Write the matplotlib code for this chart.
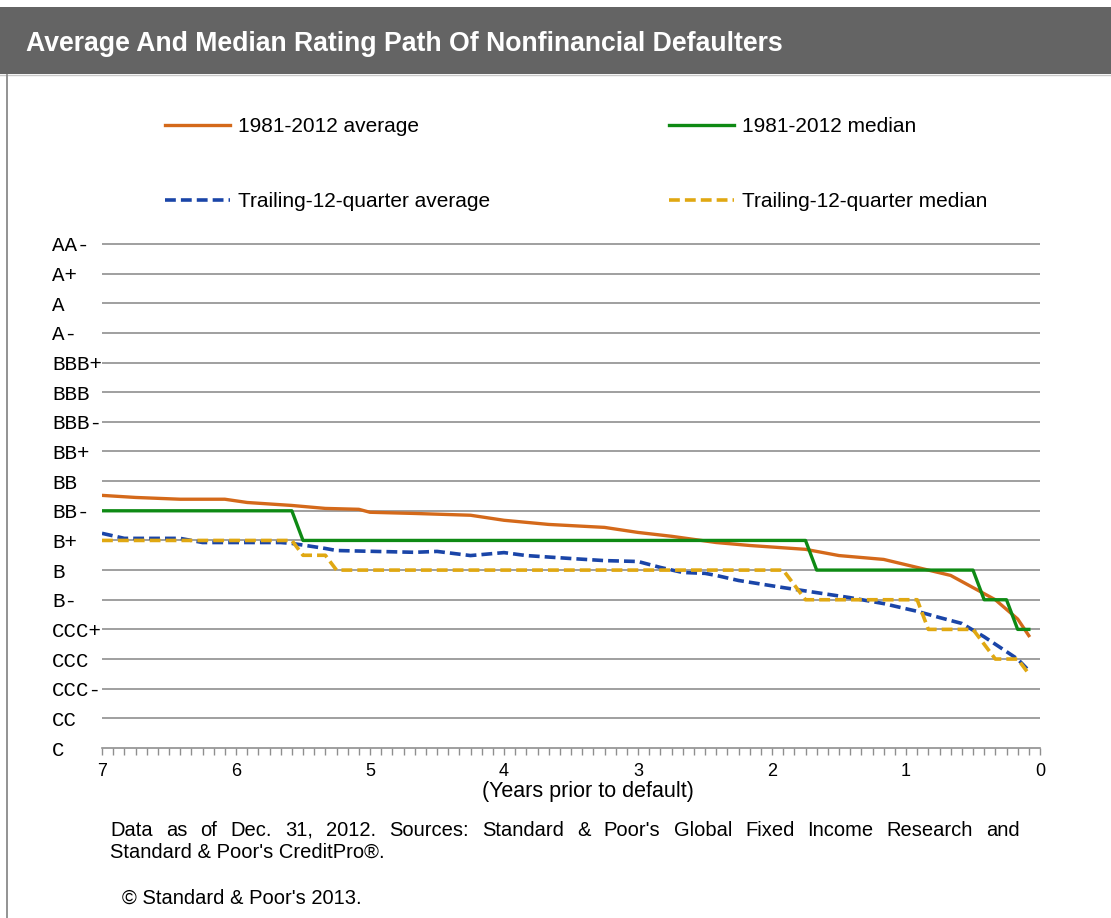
import matplotlib
matplotlib.use('Agg')
import matplotlib.pyplot as plt
from matplotlib.patches import Rectangle
from matplotlib.lines import Line2D
from matplotlib.ticker import MultipleLocator
import numpy as np

# rating scale, bottom to top
ratings = ['C', 'CC', 'CCC-', 'CCC', 'CCC+', 'B-', 'B', 'B+', 'BB-', 'BB',
           'BB+', 'BBB-', 'BBB', 'BBB+', 'A-', 'A', 'A+', 'AA-']

# months prior to default / rating level (1 = C ... 18 = AA-)
avg_months = [84, 81, 77, 73, 71, 67, 64, 61, 60, 56, 51, 48, 44, 39, 36, 33,
              29, 26, 21, 18, 14, 11, 8, 6, 4, 2, 1]
avg_vals = [9.52, 9.45, 9.39, 9.39, 9.28, 9.18, 9.08, 9.05, 8.95, 8.91, 8.85,
            8.68, 8.54, 8.44, 8.27, 8.14, 7.93, 7.83, 7.70, 7.49, 7.36, 7.09,
            6.82, 6.41, 6.00, 5.35, 4.79]

med_months = [84, 67, 66, 21, 20, 6, 5, 3, 2, 1]
med_vals = [9, 9, 8, 8, 7, 7, 6, 6, 5, 5]

trail_avg_months = [84, 82, 77, 75, 68, 67, 64, 63, 56, 54, 51, 48, 46, 42, 39,
                    36, 34, 32, 30, 29, 27, 23, 20, 17, 14, 11, 9, 7, 5, 2, 1]
trail_avg_vals = [8.24, 8.07, 8.07, 7.93, 7.93, 7.90, 7.73, 7.66, 7.60, 7.63,
                  7.49, 7.59, 7.49, 7.39, 7.32, 7.29, 7.09, 6.92, 6.89, 6.82,
                  6.65, 6.41, 6.24, 6.07, 5.87, 5.61, 5.40, 5.20, 4.75, 4.00, 3.61]

trail_med_months = [84, 67, 66, 64, 63, 23, 22, 21, 11, 10, 6, 5, 4, 2, 1]
trail_med_vals = [8, 8, 7.5, 7.5, 7, 7, 6.5, 6, 6, 5, 5, 4.5, 4, 4, 3.5]

series = [
    ('1981-2012 average', avg_months, avg_vals, '#D4691A', '-'),
    ('1981-2012 median', med_months, med_vals, '#0E8A14', '-'),
    ('Trailing-12-quarter average', trail_avg_months, trail_avg_vals, '#1A45A8', '--'),
    ('Trailing-12-quarter median', trail_med_months, trail_med_vals, '#E0A812', '--'),
]

W, H = 1111, 918
fig = plt.figure(figsize=(W / 100, H / 100), dpi=100)
plt.rcParams['font.family'] = ['Liberation Sans', 'DejaVu Sans']

# title bar and frame
fig.patches.append(Rectangle((0, 1 - 74 / H), 1, 67 / H, transform=fig.transFigure,
                             facecolor='#646464', edgecolor='none'))
fig.add_artist(Line2D([0, 1], [1 - 75 / H, 1 - 75 / H], color='#c8c8c8', lw=1))
fig.add_artist(Line2D([7 / W, 7 / W], [0, 1 - 75 / H], color='#8a8a8a', lw=1.3))
fig.text(26 / W, 1 - 44 / H, 'Average And Median Rating Path Of Nonfinancial Defaulters',
         color='white', fontsize=19.2, fontweight='bold', va='center', ha='left')

ax = fig.add_axes([102 / W, 1 - 748 / H, (1040 - 102) / W, (748 - 238) / H])

handles = []
for label, months, vals, color, ls in series:
    years = np.array(months) / 12.0
    if ls == '--':
        ln, = ax.plot(years, vals, color=color, lw=2.6, ls=ls, dashes=(3, 1.4),
                      label=label, dash_capstyle='butt')
    else:
        ln, = ax.plot(years, vals, color=color, lw=2.4, ls=ls, label=label)
    handles.append(ln)

ax.set_xlim(7, 0)
ax.set_ylim(1, 18.2)

ax.set_yticks(range(1, 19))
ax.set_yticklabels(ratings, fontfamily='Liberation Mono', fontsize=15, ha='left')
ax.tick_params(axis='y', length=0, pad=36)
for lvl in range(2, 19):
    ax.axhline(lvl, color='#8f8f8f', lw=1.2, zorder=0)

ax.xaxis.set_major_locator(MultipleLocator(1))
ax.xaxis.set_minor_locator(MultipleLocator(1 / 12))
ax.tick_params(axis='x', which='both', direction='out', length=5, width=1,
               color='#8f8f8f', labelsize=13, pad=6)
for s in ['top', 'right', 'left']:
    ax.spines[s].set_visible(False)
ax.spines['bottom'].set_color('#8f8f8f')
ax.spines['bottom'].set_linewidth(1.2)

fig.text(588 / W, 1 - 792 / H, '(Years prior to default)', fontsize=15.5,
         ha='center', va='center')

# legend: two columns
order = [handles[0], handles[2], handles[1], handles[3]]
fig.legend(order, [h.get_label() for h in order], ncol=2, frameon=False,
           loc='upper left', bbox_to_anchor=(165 / W, 1 - 117 / H),
           borderaxespad=0, borderpad=0, fontsize=15, handlelength=3.1,
           handletextpad=0.4, columnspacing=8.6, labelspacing=2.7)


def justified(ypx, text, x0, x1, **kw):
    # spread words so the line fills x0..x1 (pixels); ypx is the baseline
    r = fig.canvas.get_renderer()
    words = text.split()
    arts = [fig.text(0, 1 - ypx / H, w, ha='left', va='baseline', **kw) for w in words]
    widths = [a.get_window_extent(r).width for a in arts]
    gap = ((x1 - x0) - sum(widths)) / (len(words) - 1)
    x = x0
    for a, w in zip(arts, widths):
        a.set_x(x / W)
        x += w + gap


justified(836, "Data as of Dec. 31, 2012. Sources: Standard & Poor's Global Fixed Income Research and",
          110, 1020, fontsize=14.5)
fig.text(110 / W, 1 - 858 / H, "Standard & Poor's CreditPro®.", fontsize=14.5,
         ha='left', va='baseline')
fig.text(122 / W, 1 - 904 / H, "© Standard & Poor's 2013.", fontsize=14.5,
         ha='left', va='baseline')

fig.savefig('out.png', dpi=100)
